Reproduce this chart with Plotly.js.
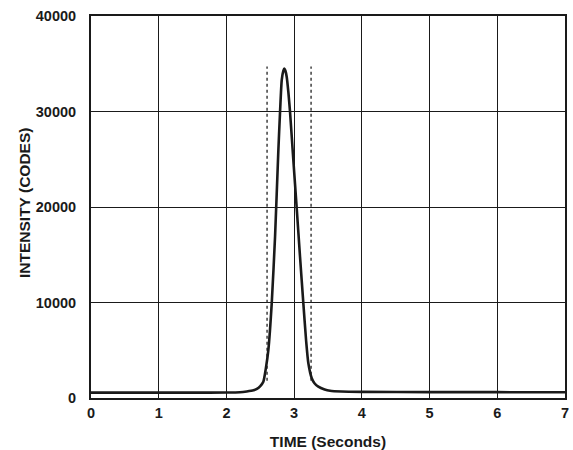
<!DOCTYPE html>
<html>
<head>
<meta charset="utf-8">
<script src="https://cdn.plot.ly/plotly-3.0.1.min.js"></script>
<style>
html,body{margin:0;padding:0;background:#fff;}
#chart{width:573px;height:450px;}
</style>
</head>
<body>
<div id="chart"></div>
<script>
// Pulse trace
var time = [0, 0.5, 1, 1.5, 2, 2.2, 2.3, 2.4, 2.45, 2.5, 2.545, 2.58, 2.619, 2.669, 2.718, 2.767, 2.792, 2.817, 2.84, 2.855, 2.87, 2.89, 2.915, 2.939, 2.988, 3.038, 3.087, 3.136, 3.176, 3.21, 3.26, 3.3, 3.357, 3.45, 3.53, 3.7, 4, 5, 6, 7];
var intensity = [560, 560, 560, 560, 570, 600, 680, 800, 950, 1250, 1707, 3000, 5026, 9915, 16890, 25970, 29980, 33300, 34250, 34500, 34300, 33640, 32000, 29980, 24920, 19860, 14790, 9915, 6073, 3633, 2063, 1550, 1183, 900, 764, 680, 640, 620, 610, 600];

// Dotted integration-window markers
var windowTimes = [2.6, 3.25];
var windowBottom = [1800, 1800];
var windowTop = [34700, 34700];

var xTicks = [0, 1, 2, 3, 4, 5, 6, 7];
var yTicks = [0, 10000, 20000, 30000, 40000];

var xTitle = 'TIME (Seconds)';
var yTitle = 'INTENSITY (CODES)';

var ink = '#1a1a1a';
var fam = 'Liberation Sans, Arial, sans-serif';
var font = {family: fam, size: 14.5, color: ink, weight: 'bold'};
var titleFont = {family: fam, size: 15.5, color: ink, weight: 'bold'};

var traces = [];
windowTimes.forEach(function (t, i) {
  traces.push({
    x: [t, t], y: [windowBottom[i], windowTop[i]],
    mode: 'lines', type: 'scatter', hoverinfo: 'skip', showlegend: false,
    line: {color: '#222', width: 1.3, dash: 'dot'}
  });
});
traces.push({
  x: time, y: intensity, mode: 'lines', type: 'scatter', showlegend: false,
  line: {color: ink, width: 2.6, shape: 'spline', smoothing: 0.6}
});

var layout = {
  width: 573, height: 450,
  margin: {l: 91, r: 8, t: 16, b: 52},
  paper_bgcolor: '#fff', plot_bgcolor: '#fff',
  font: font,
  xaxis: {
    range: [0, 7], tickvals: xTicks, ticktext: xTicks.map(String),
    showgrid: true, gridcolor: ink, gridwidth: 1,
    showline: true, linecolor: ink, linewidth: 2, mirror: true,
    zeroline: false, ticks: '', ticklabelstandoff: 1,
    tickfont: font, automargin: false,
    title: {text: xTitle, font: titleFont, standoff: 16}
  },
  yaxis: {
    range: [0, 40000], tickvals: yTicks, ticktext: yTicks.map(String),
    showgrid: true, gridcolor: ink, gridwidth: 1,
    showline: true, linecolor: ink, linewidth: 2, mirror: true,
    zeroline: false, ticks: '', ticklabelstandoff: 10,
    tickfont: font, automargin: false
  },
  annotations: [{
    text: yTitle, font: titleFont, textangle: -90,
    xref: 'paper', yref: 'paper', x: (24 - 91) / 474, y: (398 - 203) / 382,
    xanchor: 'center', yanchor: 'middle', showarrow: false
  }]
};

Plotly.newPlot('chart', traces, layout, {staticPlot: true, displayModeBar: false});
</script>
</body>
</html>
